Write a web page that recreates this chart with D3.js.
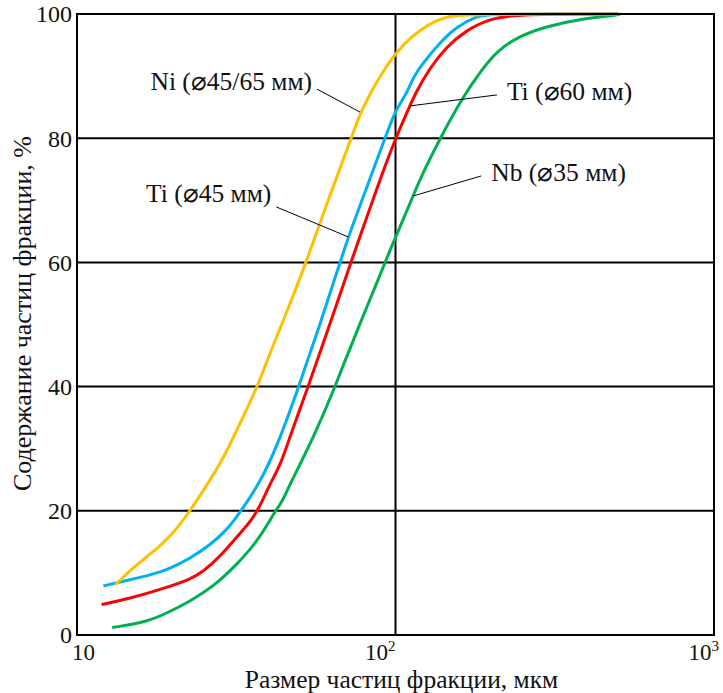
<!DOCTYPE html>
<html>
<head>
<meta charset="utf-8">
<script src="https://cdn.jsdelivr.net/npm/d3@7"></script>
<style>
  body { margin: 0; background: #fff; }
  text { font-family: "Liberation Serif", "Times New Roman", serif; fill: #111; }
</style>
</head>
<body>
<div id="chart"></div>
<script>
// particle size (мкм) / cumulative content (%)
const niSize = [13.2, 14.7, 17.4, 20.1, 22.6, 26.2, 28.1, 30.2, 32.5, 36.9, 40.4, 43.4, 45.5, 52.4, 61.4, 71.1, 77.4, 89.3, 100, 112, 127, 145, 165, 500];
const niPct  = [8.1, 10.5, 13.4, 16.4, 19.9, 25.0, 27.6, 30.6, 34.1, 40.0, 45.5, 49.3, 52.0, 59.9, 70.1, 78.6, 84.2, 90.0, 93.7, 96.3, 98.4, 99.6, 100, 100];

const ti45Size = [12.1, 14.7, 17.4, 19.6, 22.6, 26.2, 29.5, 31.7, 34.5, 38.4, 43.4, 49.7, 57.6, 66.9, 71.1, 81, 92.7, 100, 108.4, 113.5, 122.4, 138, 155, 180, 200, 500];
const ti45Pct  = [7.9, 8.9, 9.8, 10.7, 12.3, 14.5, 16.9, 19.0, 21.7, 25.5, 31.6, 40.0, 49.6, 59.9, 64.1, 71.9, 80.0, 84.6, 87.1, 89.8, 92.2, 95.4, 97.9, 99.7, 100, 100];

const ti60Size = [11.95, 14.7, 18.7, 22.6, 24.9, 28.1, 32.5, 35.4, 38.0, 40.4, 43.6, 47.0, 53.2, 61.8, 72.3, 89.3, 100, 111, 115.1, 128, 145, 167, 198, 247, 500];
const ti60Pct  = [4.9, 5.9, 7.5, 8.9, 10.2, 12.6, 16.4, 18.5, 21.3, 24.4, 27.4, 32.5, 40.0, 49.6, 59.9, 73.3, 80.0, 85.2, 87.1, 91.3, 94.8, 97.4, 99.3, 100, 100];

const nbSize = [12.9, 16.55, 19.1, 22.6, 26.8, 31.7, 36.7, 40.4, 41.9, 44.4, 46.7, 55.2, 64.6, 66.9, 77.4, 92.7, 96.1, 113.7, 119, 138, 163, 184, 208, 246, 298, 379, 482, 507];
const nbPct  = [1.2, 2.1, 3.5, 5.4, 7.8, 11.3, 15.0, 18.5, 19.9, 21.7, 24.4, 31.7, 40.0, 42.1, 50.2, 59.9, 62.0, 70.7, 73.3, 80.0, 86.7, 90.6, 94.1, 96.5, 98.0, 99.2, 99.7, 100];

const yTicks = [0, 20, 40, 60, 80, 100];
const xTicks = [10, 100, 1000];
const xTickExp = ["", "2", "3"];

const series = [
  { name: "Nb (⌀35 мм)",    size: nbSize,   pct: nbPct,   color: "#00b050" },
  { name: "Ti (⌀60 мм)",    size: ti60Size, pct: ti60Pct, color: "#ff0000" },
  { name: "Ti (⌀45 мм)",    size: ti45Size, pct: ti45Pct, color: "#00b0f0" },
  { name: "Ni (⌀45/65 мм)", size: niSize,   pct: niPct,   color: "#ffc000" }
];

// labels: anchor on the curve (data units), leader end offset in px
const notes = [
  { s: 0, at: [113.7, 70.7], dx: 68,  dy: -20, side: "right" },
  { s: 1, at: [111, 85.2],   dx: 87,  dy: -11, side: "right" },
  { s: 2, at: [71.1, 64.1],  dx: -72, dy: -30, side: "left" },
  { s: 3, at: [77.4, 84.2],  dx: -43, dy: -23, side: "left" }
];

const W = 723, H = 693;
const margin = {top: 14, right: 9, bottom: 58, left: 77};

const svg = d3.select("#chart").append("svg")
  .attr("width", W).attr("height", H);

const x = d3.scaleLog().domain([10, 1000]).range([margin.left, W - margin.right]);
const y = d3.scaleLinear().domain([0, 100]).range([H - margin.bottom, margin.top]);

// grid
svg.append("g").selectAll("line")
  .data(yTicks.filter(d => d > 0 && d < 100))
  .enter().append("line")
  .attr("x1", x(10)).attr("x2", x(1000))
  .attr("y1", d => y(d)).attr("y2", d => y(d))
  .attr("stroke", "#000").attr("stroke-width", 2);

svg.append("line")
  .attr("x1", x(100)).attr("x2", x(100))
  .attr("y1", y(0)).attr("y2", y(100))
  .attr("stroke", "#000").attr("stroke-width", 2);

const line = d3.line()
  .x(d => x(d[0]))
  .y(d => y(d[1]))
  .curve(d3.curveBasis);

svg.append("g").selectAll("path")
  .data(series)
  .enter().append("path")
  .attr("d", s => line(s.size.map((v, i) => [v, s.pct[i]])))
  .attr("fill", "none")
  .attr("stroke", s => s.color)
  .attr("stroke-width", 3)
  .attr("stroke-linejoin", "round");

// frame
svg.append("rect")
  .attr("x", x(10)).attr("y", y(100))
  .attr("width", x(1000) - x(10)).attr("height", y(0) - y(100))
  .attr("fill", "none").attr("stroke", "#000").attr("stroke-width", 2);

// y tick labels
svg.append("g").selectAll("text")
  .data(yTicks)
  .enter().append("text")
  .attr("x", x(10) - 5)
  .attr("y", d => y(d))
  .attr("dy", "0.35em")
  .attr("text-anchor", "end")
  .style("font-size", "24px")
  .text(d => d);

// x tick labels 10, 10^2, 10^3
const xt = svg.append("g").selectAll("text")
  .data(xTicks)
  .enter().append("text")
  .attr("x", (d, i) => i == 0 ? x(d) - 5 : (i == xTicks.length - 1 ? x(d) + 5 : x(d)))
  .attr("y", y(0) + 25)
  .attr("text-anchor", (d, i) => i == 0 ? "start" : "end")
  .style("font-size", "23px");
xt.append("tspan").text("10");
xt.append("tspan")
  .attr("dy", -9)
  .style("font-size", "15px")
  .text((d, i) => xTickExp[i]);

// axis titles
svg.append("text")
  .attr("x", (x(10) + x(1000)) / 2 + 6)
  .attr("y", H - 5)
  .attr("text-anchor", "middle")
  .style("font-size", "25.5px")
  .text("Размер частиц фракции, мкм");

svg.append("text")
  .attr("transform", "translate(31," + ((y(0) + y(100)) / 2 - 11) + ") rotate(-90)")
  .attr("text-anchor", "middle")
  .style("font-size", "26px")
  .text("Содержание частиц фракции, %");

// curve labels with leader lines
const ann = svg.append("g").selectAll("g")
  .data(notes)
  .enter().append("g");

ann.append("line")
  .attr("x1", d => x(d.at[0])).attr("y1", d => y(d.at[1]))
  .attr("x2", d => x(d.at[0]) + d.dx).attr("y2", d => y(d.at[1]) + d.dy)
  .attr("stroke", "#000").attr("stroke-width", 1);

ann.append("text")
  .attr("x", d => x(d.at[0]) + d.dx + (d.side == "right" ? 10 : -5))
  .attr("y", d => y(d.at[1]) + d.dy + (d.side == "right" ? 5 : (d.s == 2 ? -5 : 1)))
  .attr("text-anchor", d => d.side == "right" ? "start" : "end")
  .style("font-size", "25.5px")
  .text(d => series[d.s].name);
</script>
</body>
</html>
